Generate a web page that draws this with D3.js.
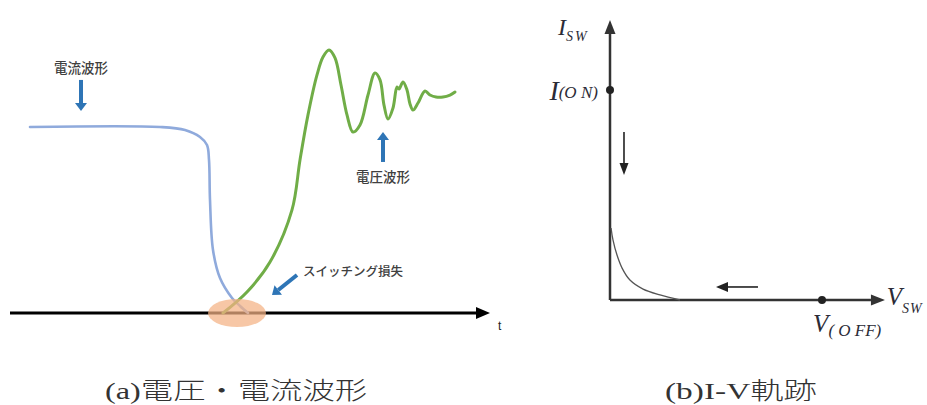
<!DOCTYPE html>
<html lang="ja">
<head>
<meta charset="UTF-8" />
<title>スイッチング損失</title>
<script src="https://d3js.org/d3.v7.min.js"></script>
<style>
  body { margin: 0; background: #fff; }
</style>
</head>
<body>
<div id="chart"></div>
<script>
// (a) waveforms: time (ns), amplitude (current plateau = 1)
const currentT = [10, 75, 87.5, 95, 98.5, 99.5, 100, 101.5, 105, 111, 115, 119]
const currentV = [1.0, 1.0, 0.984, 0.946, 0.903, 0.823, 0.608, 0.339, 0.188, 0.081, 0.038, 0]
const voltageT = [106.5, 118.5, 130, 141, 145, 149, 153.5, 156.5, 159.5, 162.5, 165.5, 168.5, 171.5, 175, 179, 182.5, 185, 187, 189, 191.5, 193.5, 194.5, 196.5, 198.5, 200, 201.5, 204, 207.5, 210, 213, 216.5, 220, 222.5]
const voltageV = [0, 0.113, 0.274, 0.554, 0.823, 1.065, 1.28, 1.376, 1.414, 1.371, 1.226, 1.065, 0.973, 1.011, 1.172, 1.29, 1.253, 1.118, 1.043, 1.102, 1.215, 1.204, 1.242, 1.199, 1.124, 1.091, 1.129, 1.194, 1.172, 1.161, 1.161, 1.172, 1.188]
const lossT = 113.5

// (b) I-V trajectory: V / V(OFF), I / I(ON)
const ivV = [0.005, 0.014, 0.033, 0.057, 0.094, 0.156, 0.236, 0.33]
const ivI = [0.343, 0.286, 0.214, 0.152, 0.095, 0.052, 0.024, 0]

const captions = ["(a)電圧・電流波形", "(b)I-V軌跡"]

const width = 927
const height = 405

const svg = d3.select("#chart").append("svg")
  .attr("width", width)
  .attr("height", height)
  .attr("viewBox", [0, 0, width, height])

// scales
const x = d3.scaleLinear().domain([0, 240]).range([10, 490])
const y = d3.scaleLinear().domain([0, 1]).range([313, 127])
const xv = d3.scaleLinear().domain([0, 1]).range([610, 822])
const yi = d3.scaleLinear().domain([0, 1]).range([300, 90])

// shaft + triangle head, tip at (x2,y2)
function arrow(g, x1, y1, x2, y2, color, shaft, headW, headL) {
  const a = Math.atan2(y2 - y1, x2 - x1)
  const bx = x2 - headL * Math.cos(a), by = y2 - headL * Math.sin(a)
  g.append("line")
    .attr("x1", x1).attr("y1", y1).attr("x2", bx).attr("y2", by)
    .attr("stroke", color).attr("stroke-width", shaft)
  const nx = -Math.sin(a) * headW / 2, ny = Math.cos(a) * headW / 2
  g.append("path")
    .attr("d", `M${x2},${y2}L${bx + nx},${by + ny}L${bx - nx},${by - ny}Z`)
    .attr("fill", color)
}

// ---------- (a) ----------
const ga = svg.append("g")

// time axis
arrow(ga, x(0), y(0), x(240), y(0), "#000", 3, 12, 14)
ga.append("text")
  .attr("x", x(244)).attr("y", y(-0.091))
  .attr("font-family", "Arial, 'Liberation Sans', sans-serif")
  .attr("font-size", 12).attr("fill", "#222")
  .text("t")

const lineA = d3.line()
  .x(d => x(d[0])).y(d => y(d[1]))
  .curve(d3.curveCatmullRom.alpha(0.5))

ga.append("path")
  .datum(d3.zip(currentT, currentV))
  .attr("fill", "none").attr("stroke", "#8faadc").attr("stroke-width", 2.6)
  .attr("stroke-linecap", "round")
  .attr("d", lineA)

ga.append("path")
  .datum(d3.zip(voltageT, voltageV))
  .attr("fill", "none").attr("stroke", "#70ad47").attr("stroke-width", 3)
  .attr("stroke-linecap", "round").attr("stroke-linejoin", "round")
  .attr("d", lineA)

// loss region
ga.append("ellipse")
  .attr("cx", x(lossT)).attr("cy", y(0))
  .attr("rx", x(lossT + 14.5) - x(lossT)).attr("ry", 14)
  .attr("fill", "#f4b183").attr("opacity", 0.72)

const jp = "'Noto Sans CJK JP', sans-serif"
const blue = "#2e75b6"

ga.append("text")
  .attr("x", x(35.5)).attr("y", y(1.29))
  .attr("text-anchor", "middle")
  .attr("font-family", jp).attr("font-size", 13.5).attr("font-weight", 500)
  .attr("fill", "#404040")
  .text("電流波形")
arrow(ga, x(35.5), y(1.253), x(35.5), y(1.086), blue, 4, 12, 8)

ga.append("text")
  .attr("x", x(186.5)).attr("y", y(0.705))
  .attr("text-anchor", "middle")
  .attr("font-family", jp).attr("font-size", 13.5).attr("font-weight", 500)
  .attr("fill", "#404040")
  .text("電圧波形")
arrow(ga, x(186.5), y(0.812), x(186.5), y(0.973), blue, 4, 12, 8)

ga.append("text")
  .attr("x", x(146.5)).attr("y", y(0.2))
  .attr("font-family", jp).attr("font-size", 12.5).attr("font-weight", 500)
  .attr("fill", "#404040")
  .text("スイッチング損失")
arrow(ga, x(143.5), y(0.204), x(131), y(0.097), blue, 4, 12, 8)

// ---------- (b) ----------
const gb = svg.append("g")
const axisColor = "#333"

arrow(gb, xv(0), yi(0), xv(0), yi(1.333), axisColor, 2.5, 11, 14)
arrow(gb, xv(0), yi(0), xv(1.297), yi(0), axisColor, 2.5, 11, 14)

gb.append("path")
  .datum(d3.zip(ivV, ivI))
  .attr("fill", "none").attr("stroke", "#555").attr("stroke-width", 1.3)
  .attr("d", d3.line().x(d => xv(d[0])).y(d => yi(d[1])).curve(d3.curveCatmullRom.alpha(0.5)))

gb.selectAll("circle")
  .data([[0, 1], [1, 0]])
  .join("circle")
  .attr("cx", d => xv(d[0])).attr("cy", d => yi(d[1]))
  .attr("r", 4).attr("fill", "#222")

// direction arrows
arrow(gb, xv(0.066), yi(0.8), xv(0.066), yi(0.595), "#222", 1.6, 9, 12)
arrow(gb, xv(0.698), yi(0.062), xv(0.5), yi(0.062), "#222", 1.6, 10, 12)

const serif = "'Liberation Serif', 'Times New Roman', serif"
const labelColor = "#2b2b36"

function mathLabel(px, py, main, sub, mainSize, subSize, dy, anchor, spacing) {
  const t = gb.append("text")
    .attr("x", px).attr("y", py)
    .attr("text-anchor", anchor)
    .attr("font-family", serif).attr("font-style", "italic")
    .attr("fill", labelColor)
  t.append("tspan").attr("font-size", mainSize).text(main)
  t.append("tspan").attr("font-size", subSize).attr("dy", dy)
    .attr("letter-spacing", spacing).text(sub)
}

mathLabel(xv(-0.245), yi(1.262), "I", "SW", 24, 14, 6, "start", 2)
mathLabel(xv(-0.057), yi(0.952), "I", "(O N)", 28, 17, -2, "end", 0)
mathLabel(xv(1.305), yi(-0.024), "V", "SW", 25, 14, 8, "start", 1)
mathLabel(xv(0.958), yi(-0.152), "V", "( O FF)", 25, 17, 4, "start", 0)

// ---------- captions ----------
const capX = [105, 665]
const capLen = [262, 152]
svg.selectAll(".caption")
  .data(captions)
  .join("text")
  .attr("class", "caption")
  .attr("x", (d, i) => capX[i]).attr("y", 399)
  .attr("textLength", (d, i) => capLen[i])
  .attr("lengthAdjust", "spacingAndGlyphs")
  .attr("font-family", "'Liberation Serif', 'Noto Sans CJK JP', serif")
  .attr("font-size", 24)
  .attr("font-weight", 300)
  .attr("fill", "#333")
  .text(d => d)
</script>
</body>
</html>
